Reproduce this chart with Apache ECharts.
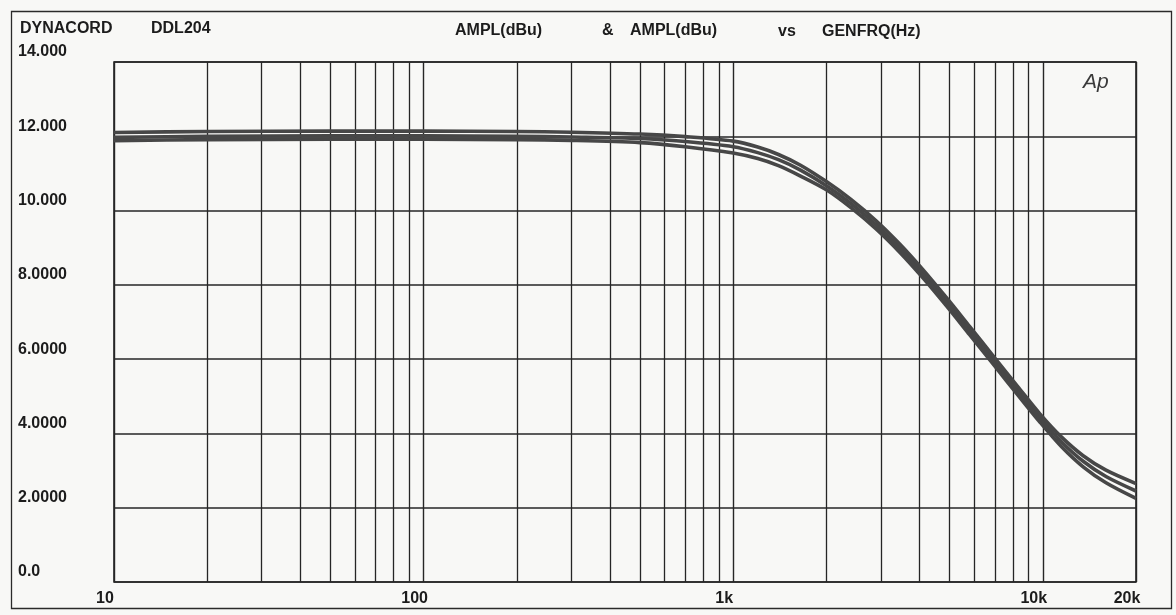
<!DOCTYPE html>
<html>
<head>
<meta charset="utf-8">
<title>DYNACORD DDL204 AMPL vs GENFRQ</title>
<script src="https://cdn.jsdelivr.net/npm/echarts@6/dist/echarts.min.js"></script>
<style>
  html, body { margin: 0; padding: 0; background: #f8f8f6; }
  #chart { width: 1176px; height: 615px; }
</style>
</head>
<body>
<div id="chart"></div>
<script>
// Sweep frequencies (Hz) shared by the three amplitude traces
const freqs = [10, 20, 50, 100, 200, 300, 500, 700, 1000, 1200, 1400, 1650, 2000, 2400, 2900,
               3450, 4100, 4900, 5800, 7000, 8300, 9800, 11500, 13500, 16000, 20000];

// Measured amplitude, dBu
const amplUpper  = [12.10, 12.13, 12.14, 12.14, 12.13, 12.11, 12.06, 11.99, 11.87, 11.71, 11.51, 11.22, 10.78,
                    10.30, 9.72, 9.10, 8.41, 7.64, 6.88, 6.03, 5.26, 4.52, 3.90, 3.40, 3.01, 2.65];
const amplMiddle = [11.97, 12.00, 12.01, 12.01, 12.00, 11.98, 11.94, 11.86, 11.72, 11.56, 11.37, 11.09, 10.67,
                    10.19, 9.61, 8.99, 8.30, 7.53, 6.77, 5.92, 5.15, 4.41, 3.77, 3.25, 2.84, 2.45];
const amplLower  = [11.88, 11.91, 11.92, 11.92, 11.91, 11.89, 11.83, 11.72, 11.55, 11.40, 11.21, 10.93, 10.56,
                    10.08, 9.50, 8.88, 8.19, 7.42, 6.66, 5.81, 5.04, 4.30, 3.64, 3.10, 2.67, 2.25];

// Axis tick labels
const xTickValues = [10, 100, 1000, 10000, 20000];
const xTickLabels = ['10', '100', '1k', '10k', '20k'];
const yTickLabels = ['0.0', '2.0000', '4.0000', '6.0000', '8.0000', '10.000', '12.000', '14.000'];

// Intermediate log-grid frequencies (2..9 of each decade)
const minorFreqs = [20, 30, 40, 50, 60, 70, 80, 90,
                    200, 300, 400, 500, 600, 700, 800, 900,
                    2000, 3000, 4000, 5000, 6000, 7000, 8000, 9000];

const INK = '#262626';
const TRACE = '#474747';
const FONT = "'Liberation Sans', Arial, sans-serif";

function pairs(values) {
  return freqs.map((f, i) => [f, values[i]]);
}

function trace(values) {
  return {
    type: 'line',
    data: pairs(values),
    showSymbol: false,
    smooth: 0.3,
    z: 3,
    silent: true,
    lineStyle: { color: TRACE, width: 3.6 },
    emphasis: { disabled: true }
  };
}

const chart = echarts.init(document.getElementById('chart'), null, { renderer: 'canvas' });

const titleStyle = { fill: '#1c1c1c', font: 'bold 16px ' + FONT };

chart.setOption({
  backgroundColor: '#f8f8f6',
  animation: false,
  grid: {
    left: 114, top: 62, width: 1022, height: 520,
    show: true, borderColor: INK, borderWidth: 1.6,
    backgroundColor: 'transparent',
    outerBoundsMode: 'none'
  },
  xAxis: {
    type: 'log',
    logBase: 10,
    min: 10,
    max: 20000,
    axisLine: { show: false },
    axisTick: { show: false },
    splitLine: { show: true, lineStyle: { color: INK, width: 1.4 } },
    axisLabel: {
      margin: 9,
      color: '#1c1c1c',
      fontFamily: FONT,
      fontWeight: 'bold',
      fontSize: 16,
      padding: [0, 18, 0, 0],
      formatter: function (v) {
        const i = xTickValues.indexOf(Math.round(v));
        return i >= 0 ? xTickLabels[i] : '';
      }
    }
  },
  yAxis: {
    type: 'value',
    min: 0,
    max: 14,
    interval: 2,
    axisLine: { show: false },
    axisTick: { show: false },
    splitLine: { show: true, lineStyle: { color: INK, width: 1.6 } },
    axisLabel: {
      align: 'left',
      verticalAlign: 'bottom',
      margin: 96,
      color: '#1c1c1c',
      fontFamily: FONT,
      fontWeight: 'bold',
      fontSize: 16,
      padding: [0, 0, 2, 0],
      formatter: function (v) {
        return yTickLabels[Math.round(v / 2)];
      }
    }
  },
  series: [
    {
      // log-decade subdivisions of the frequency grid
      type: 'line',
      data: [],
      silent: true,
      z: 1,
      markLine: {
        silent: true,
        z: 1,
        symbol: ['none', 'none'],
        label: { show: false },
        emphasis: { disabled: true },
        animation: false,
        lineStyle: { color: INK, width: 1.3, type: 'solid' },
        data: minorFreqs.map(f => ({ xAxis: f }))
      }
    },
    trace(amplLower),
    trace(amplMiddle),
    trace(amplUpper)
  ],
  graphic: [
    {
      type: 'rect', silent: true, z: 0,
      shape: { x: 11.5, y: 11.5, width: 1160, height: 597 },
      style: { fill: 'none', stroke: '#2a2a2a', lineWidth: 1.3 }
    },
    { type: 'text', left: 20, top: 21, silent: true, style: Object.assign({ text: 'DYNACORD' }, titleStyle) },
    { type: 'text', left: 151, top: 21, silent: true, style: Object.assign({ text: 'DDL204' }, titleStyle) },
    { type: 'text', left: 455, top: 23, silent: true, style: Object.assign({ text: 'AMPL(dBu)' }, titleStyle) },
    { type: 'text', left: 602, top: 23, silent: true, style: Object.assign({ text: '&' }, titleStyle) },
    { type: 'text', left: 630, top: 23, silent: true, style: Object.assign({ text: 'AMPL(dBu)' }, titleStyle) },
    { type: 'text', left: 778, top: 24, silent: true, style: Object.assign({ text: 'vs' }, titleStyle) },
    { type: 'text', left: 822, top: 24, silent: true, style: Object.assign({ text: 'GENFRQ(Hz)' }, titleStyle) },
    {
      type: 'text', left: 1083, top: 72, silent: true,
      style: { text: 'Ap', fill: '#3a3a3a', font: 'italic 300 21px ' + FONT }
    }
  ]
});
</script>
</body>
</html>
